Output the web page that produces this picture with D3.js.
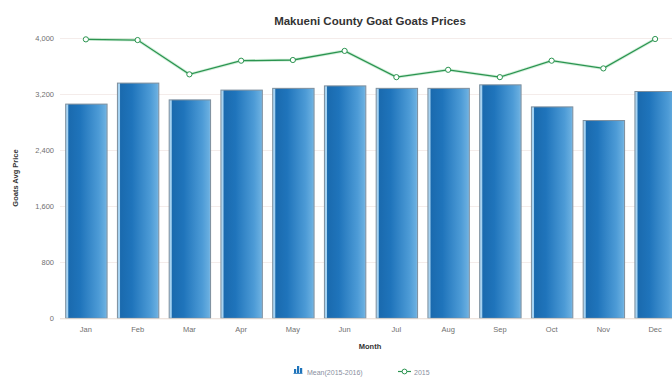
<!DOCTYPE html>
<html>
<head>
<meta charset="utf-8">
<script src="https://cdn.jsdelivr.net/npm/d3@7"></script>
<style>
  html, body { margin: 0; padding: 0; background: #fff; }
  svg { display: block; font-family: "Liberation Sans", Arial, sans-serif; }
</style>
</head>
<body>
<svg id="chart" width="672" height="378"></svg>
<script>
// Monthly goat prices, Makueni County
const months = ["Jan","Feb","Mar","Apr","May","Jun","Jul","Aug","Sep","Oct","Nov","Dec"];
const meanPrices = [3060, 3360, 3120, 3260, 3285, 3320, 3285, 3285, 3335, 3020, 2825, 3240];
const prices2015 = [3985, 3975, 3485, 3680, 3690, 3820, 3445, 3550, 3445, 3680, 3570, 3990];
const yTicks = [0, 800, 1600, 2400, 3200, 4000];
const seriesNames = ["Mean(2015-2016)", "2015"];

const svg = d3.select("#chart");
const margin = { left: 60, right: -9, top: 39, bottom: 60 };
const W = 672, H = 378;

const x = d3.scaleBand()
  .domain(months)
  .range([margin.left, W - margin.right])
  .paddingInner(0.2)
  .paddingOuter(0.1);

const y = d3.scaleLinear()
  .domain([0, 4000])
  .range([318.3, 38.3]);

// Bar gradient: light edge, deep blue fading to lighter blue
const defs = svg.append("defs");
const grad = defs.append("linearGradient")
  .attr("id", "barGrad")
  .attr("x1", "0%").attr("x2", "100%").attr("y1", "0%").attr("y2", "0%");
[
  [0, "#a6d3f2"], [0.05, "#a6d3f2"], [0.075, "#1a6aae"],
  [0.35, "#1f74bb"], [0.8, "#4d9bd6"], [0.95, "#67addf"], [1, "#7fb9e4"]
].forEach(([o, c]) => grad.append("stop").attr("offset", o).attr("stop-color", c));

// Grid lines
svg.append("g")
  .selectAll("line")
  .data(yTicks)
  .join("line")
  .attr("x1", margin.left)
  .attr("x2", W)
  .attr("y1", d => Math.round(y(d)) + 0.5)
  .attr("y2", d => Math.round(y(d)) + 0.5)
  .attr("stroke", "#f4ecea")
  .attr("stroke-width", 1);

// Y axis labels
const yAxis = d3.axisLeft(y)
  .tickValues(yTicks)
  .tickFormat(d3.format(","))
  .tickSize(0)
  .tickPadding(0);
svg.append("g")
  .attr("transform", `translate(${54},0)`)
  .call(yAxis)
  .call(g => g.select(".domain").remove())
  .call(g => g.selectAll("text")
    .attr("fill", "#707070")
    .attr("font-size", 7.5));

// Bars
svg.append("g")
  .selectAll("rect")
  .data(months.map((m, i) => ({ m, v: meanPrices[i] })))
  .join("rect")
  .attr("x", d => x(d.m) + 0.5)
  .attr("y", d => y(d.v))
  .attr("width", x.bandwidth())
  .attr("height", d => y(0) - y(d.v))
  .attr("fill", "url(#barGrad)")
  .attr("stroke", "#7d8e9c")
  .attr("stroke-width", 1);

// Baseline
svg.append("line")
  .attr("x1", margin.left).attr("x2", W)
  .attr("y1", y(0) + 0.5).attr("y2", y(0) + 0.5)
  .attr("stroke", "#ece0d8");

// X axis labels
const xAxis = d3.axisBottom(x).tickSize(0).tickPadding(0);
svg.append("g")
  .attr("transform", `translate(0,${327})`)
  .call(xAxis)
  .call(g => g.select(".domain").remove())
  .call(g => g.selectAll("text")
    .attr("fill", "#707070")
    .attr("font-size", 7.5));

// 2015 line
const cx = m => x(m) + x.bandwidth() / 2;
const line = d3.line()
  .x((d, i) => cx(months[i]))
  .y(d => y(d));
svg.append("path")
  .datum(prices2015)
  .attr("d", line)
  .attr("fill", "none")
  .attr("stroke", "#a8e0b8")
  .attr("stroke-width", 3)
  .attr("opacity", 0.5);
svg.append("path")
  .datum(prices2015)
  .attr("d", line)
  .attr("fill", "none")
  .attr("stroke", "#2b9450")
  .attr("stroke-width", 1.3);
svg.append("g")
  .selectAll("circle")
  .data(prices2015)
  .join("circle")
  .attr("cx", (d, i) => cx(months[i]))
  .attr("cy", d => y(d))
  .attr("r", 2.6)
  .attr("fill", "#fff")
  .attr("stroke", "#2b9450")
  .attr("stroke-width", 1);

// Titles
svg.append("text")
  .attr("x", 370).attr("y", 25)
  .attr("text-anchor", "middle")
  .attr("font-size", 11.5)
  .attr("font-weight", "bold")
  .attr("fill", "#333")
  .text("Makueni County Goat Goats Prices");

svg.append("text")
  .attr("transform", `translate(18,${178}) rotate(-90)`)
  .attr("text-anchor", "middle")
  .attr("font-size", 7.5)
  .attr("font-weight", "bold")
  .attr("fill", "#333")
  .text("Goats Avg Price");

svg.append("text")
  .attr("x", 370).attr("y", 349)
  .attr("text-anchor", "middle")
  .attr("font-size", 7.5)
  .attr("font-weight", "bold")
  .attr("fill", "#333")
  .text("Month");

// Legend
const lg = svg.append("g").attr("transform", "translate(0,372)");
const barIcon = lg.append("g").attr("transform", "translate(294,0)");
[[0, 4], [3, 7], [6, 5]].forEach(([dx, h]) => {
  barIcon.append("rect")
    .attr("x", dx).attr("y", -h + 1).attr("width", 2.2).attr("height", h)
    .attr("fill", "#1f74bb");
});
barIcon.append("rect").attr("x", -0.5).attr("y", 1).attr("width", 9).attr("height", 0.8).attr("fill", "#1f74bb");
lg.append("text")
  .attr("x", 307).attr("y", 2.5)
  .attr("font-size", 7)
  .attr("fill", "#8a8fa0")
  .text(seriesNames[0]);
lg.append("line")
  .attr("x1", 398).attr("x2", 411).attr("y1", -0.5).attr("y2", -0.5)
  .attr("stroke", "#2b9450").attr("stroke-width", 1.2);
lg.append("circle")
  .attr("cx", 404.5).attr("cy", -0.5).attr("r", 2.4)
  .attr("fill", "#fff").attr("stroke", "#2b9450");
lg.append("text")
  .attr("x", 414).attr("y", 2.5)
  .attr("font-size", 7)
  .attr("fill", "#8a8fa0")
  .text(seriesNames[1]);
</script>
</body>
</html>
